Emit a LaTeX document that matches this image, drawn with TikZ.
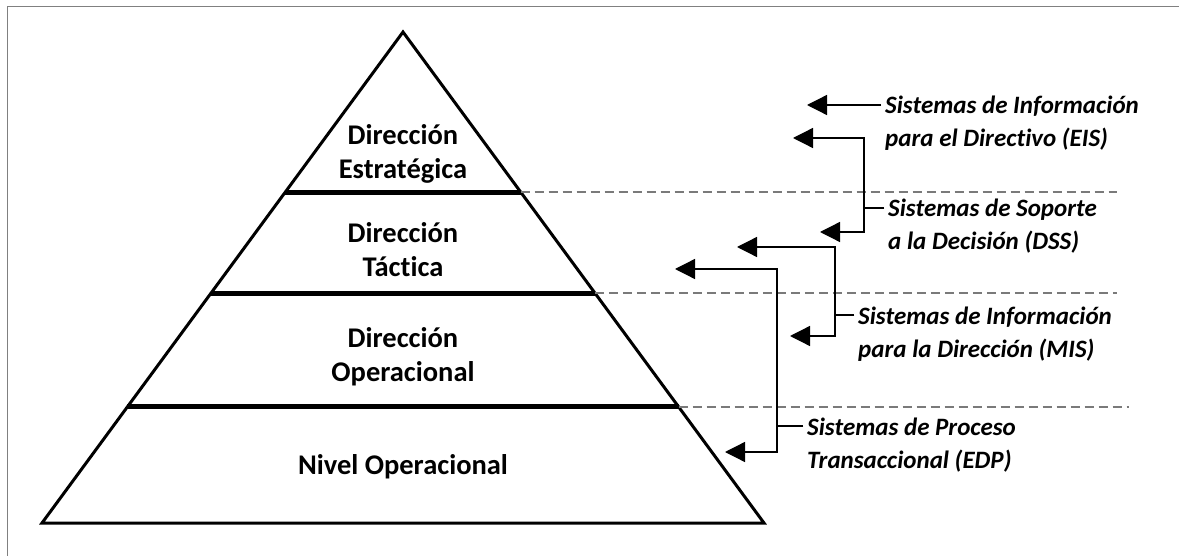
\documentclass[tikz,border=0pt]{standalone}
\usepackage{fontspec}
\setmainfont{Carlito}[RawFeature={-liga;-clig;-calt;-dlig;-rlig}]
\usepackage{tikz}
\usetikzlibrary{arrows.meta, calc}
\definecolor{FrameGray}{HTML}{808080}
\definecolor{GuideGray}{HTML}{7A7A7A}

\begin{document}
\begin{tikzpicture}[
    x=1pt, y=-1pt,
    level/.style={font=\bfseries\fontsize{28.5}{34}\selectfont, align=center, inner sep=0pt},
    system/.style={font=\bfseries\itshape\fontsize{25}{32.5}\selectfont, align=left, anchor=west, inner xsep=4pt, inner ysep=0pt},
    wall/.style={line width=3pt},
    tier/.style={line width=5pt},
    guide/.style={GuideGray, line width=1.3pt, dash pattern=on 9pt off 5pt},
    feed/.style={line width=1.3pt, -{Triangle[length=20pt, width=20pt]}}
]
  \useasboundingbox (0,0) rectangle (1179,556);
  % Frame
  \draw[FrameGray, line width=1pt] (7,560) -- (7,7) -- (1183,7);
  % Pyramid
  \coordinate (apex) at (403,32);
  \coordinate (bl) at (42,523);
  \coordinate (br) at (764,523);
  \draw[wall] (apex) -- (bl) -- (br) -- cycle;
  \coordinate (t1l) at ($(apex)!0.3259!(bl)$);
  \coordinate (t1r) at ($(apex)!0.3259!(br)$);
  \coordinate (t2l) at ($(apex)!0.5316!(bl)$);
  \coordinate (t2r) at ($(apex)!0.5316!(br)$);
  \coordinate (t3l) at ($(apex)!0.7637!(bl)$);
  \coordinate (t3r) at ($(apex)!0.7637!(br)$);
  \draw[tier] (t1l) -- (t1r);
  \draw[tier] (t2l) -- (t2r);
  \draw[tier] (t3l) -- (t3r);
  % Guides
  \draw[guide] (t1r) -- (t1r -| 1117,0);
  \draw[guide] (t2r) -- (t2r -| 1117,0);
  \draw[guide] (t3r) -- (t3r -| 1129,0);
  % Levels
  \node[level] (strat) at (403,154) {Dirección\\Estratégica};
  \node[level] (tact) at (403,250) {Dirección\\Táct\kern0pt ica};
  \node[level] (oper) at (403,357) {Dirección\\Operacional};
  \node[level] (base) at (403,467) {Nivel Operacional};
  % Systems
  \node[system] (eis) at (881,123) {Sistemas de Información\\para el Direct\kern0pt ivo (EIS)};
  \node[system] (dss) at (884,226) {Sistemas de Soporte\\a la Decisión (DSS)};
  \node[system] (mis) at (854,334) {Sistemas de Información\\para la Dirección (MIS)};
  \node[system] (edp) at (803,445) {Sistemas de Proceso\\Transaccional (EDP)};
  % Arrow tips and joints
  \coordinate (eist) at (807,105);
  \coordinate (dssj) at (864,208);
  \coordinate (dsst) at (793,138);
  \coordinate (dssb) at (820,232);
  \coordinate (misj) at (835,315);
  \coordinate (mist) at (737,247);
  \coordinate (misb) at (790,336);
  \coordinate (edpj) at (777,426);
  \coordinate (edpt) at (675,269);
  \coordinate (edpb) at (725,452);
  % Connectors
  \draw[feed] (eis.west |- eist) -- (eist);
  \draw[feed] (dss.west |- dssj) -- (dssj) |- (dsst);
  \draw[feed] (dss.west |- dssj) -- (dssj) |- (dssb);
  \draw[feed] (mis.west |- misj) -- (misj) |- (mist);
  \draw[feed] (mis.west |- misj) -- (misj) |- (misb);
  \draw[feed] (edp.west |- edpj) -- (edpj) |- (edpt);
  \draw[feed] (edp.west |- edpj) -- (edpj) |- (edpb);
\end{tikzpicture}
\end{document}
